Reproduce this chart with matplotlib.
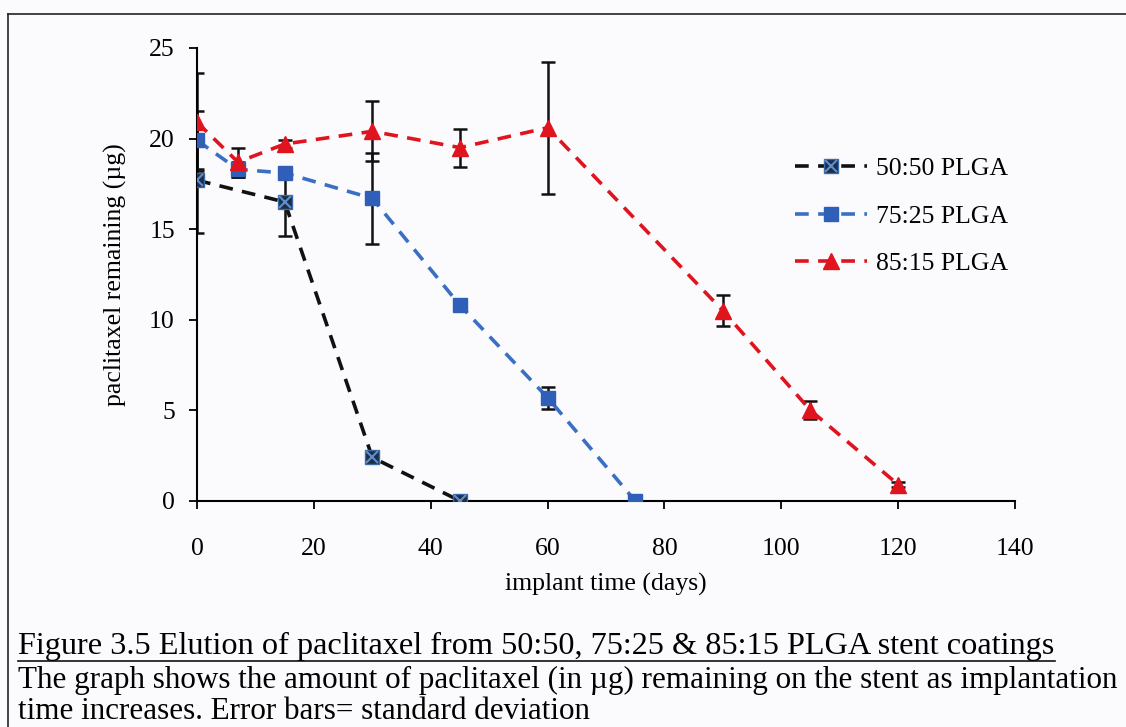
import matplotlib
matplotlib.use("Agg")
import matplotlib.pyplot as plt
from matplotlib.lines import Line2D

# === Data ===
days_5050 = [0, 15, 30, 45]
mean_5050 = [17.7, 16.5, 2.4, 0.0]
sd_5050 = [2.9, 1.9, 0.1, 0.0]

days_7525 = [0, 7, 15, 30, 45, 60, 75]
mean_7525 = [19.9, 18.3, 18.1, 16.7, 10.8, 5.7, 0.0]
sd_7525 = [1.6, 0.4, 0.3, 2.5, 0.2, 0.6, 0.0]

days_8515 = [0, 7, 15, 30, 45, 60, 90, 105, 120]
mean_8515 = [20.9, 18.7, 19.7, 20.4, 19.5, 20.6, 10.5, 5.0, 0.9]
sd_8515 = [2.7, 0.8, 0.2, 1.65, 1.05, 3.65, 0.85, 0.5, 0.15]

x_ticks = [0, 20, 40, 60, 80, 100, 120, 140]
y_ticks = [0, 5, 10, 15, 20, 25]

caption_title = "Figure 3.5 Elution of paclitaxel from 50:50, 75:25 & 85:15 PLGA stent coatings"
caption_line1 = "The graph shows the amount of paclitaxel (in \u00b5g) remaining on the stent as implantation"
caption_line2 = "time increases. Error bars= standard deviation"

plt.rcParams["font.family"] = ["Liberation Serif", "DejaVu Serif"]

fig = plt.figure(figsize=(11.26, 7.27), dpi=100)
fig.patch.set_facecolor("#fbfbfd")
ax = fig.add_axes([0.175, 0.311, 0.7264, 0.623])
ax.set_facecolor("none")

eb_kw = dict(fmt="none", ecolor="#111111", elinewidth=1.8, capsize=5, capthick=1.8, zorder=2)
ax.errorbar(days_5050, mean_5050, yerr=sd_5050, **eb_kw)
ax.errorbar(days_7525, mean_7525, yerr=sd_7525, **eb_kw)
ax.errorbar(days_8515, mean_8515, yerr=sd_8515, **eb_kw)

line_kw = dict(linestyle=(0, (3.8, 2.6)), linewidth=2.6, zorder=3)
l1, = ax.plot(days_5050, mean_5050, color="#111111", marker="s", markersize=10,
              markerfacecolor="#1d2f48", markeredgecolor="#3b6aa5", **line_kw)
x1, = ax.plot(days_5050, mean_5050, linestyle="none", marker="x", markersize=9,
              markeredgewidth=1.5, color="#5d8fd0", zorder=4)
l2, = ax.plot(days_7525, mean_7525, color="#3a6fc4", marker="s", markersize=10,
              markerfacecolor="#2f5fb8", markeredgecolor="#2f5fb8", **line_kw)
l3, = ax.plot(days_8515, mean_8515, color="#e0141e", marker="^", markersize=12,
              markerfacecolor="#e0141e", markeredgecolor="#e0141e", **line_kw)

ax.set_xlim(0, 140)
ax.set_ylim(0, 25)
ax.set_xticks(x_ticks)
ax.set_yticks(y_ticks)
ax.tick_params(labelsize=18.5, direction="out", length=6, width=1.3)
ax.tick_params(axis="x", pad=21)
ax.tick_params(axis="y", pad=10)
for side in ["top", "right"]:
    ax.spines[side].set_visible(False)
for side in ["left", "bottom"]:
    ax.spines[side].set_linewidth(1.5)
ax.set_xlabel("implant time (days)", fontsize=18.5, labelpad=9)
ax.set_ylabel("paclitaxel remaining (\u00b5g)", fontsize=18.5, labelpad=16)

ax.legend([(l1, x1), l2, l3], ["50:50 PLGA", "75:25 PLGA", "85:15 PLGA"],
          loc="upper left", bbox_to_anchor=(0.703, 0.81), frameon=False,
          fontsize=18.5, handlelength=2.8, labelspacing=0.95, handletextpad=0.35)

# frame lines of the scanned figure box
fig.add_artist(Line2D([0.0071, 0.0071], [0.0, 0.9807], color="#222222", linewidth=1.2))
fig.add_artist(Line2D([0.0071, 1.0], [0.9807, 0.9807], color="#222222", linewidth=1.2))

fig.text(0.016, 0.1, caption_title, fontsize=23.2, ha="left", va="baseline")
fig.add_artist(Line2D([0.016, 0.937], [0.091, 0.091], color="#111111", linewidth=1.2))
fig.text(0.016, 0.053, caption_line1, fontsize=22.4, ha="left", va="baseline")
fig.text(0.016, 0.011, caption_line2, fontsize=22.4, ha="left", va="baseline")

fig.savefig("out.png", dpi=100, facecolor=fig.get_facecolor())
